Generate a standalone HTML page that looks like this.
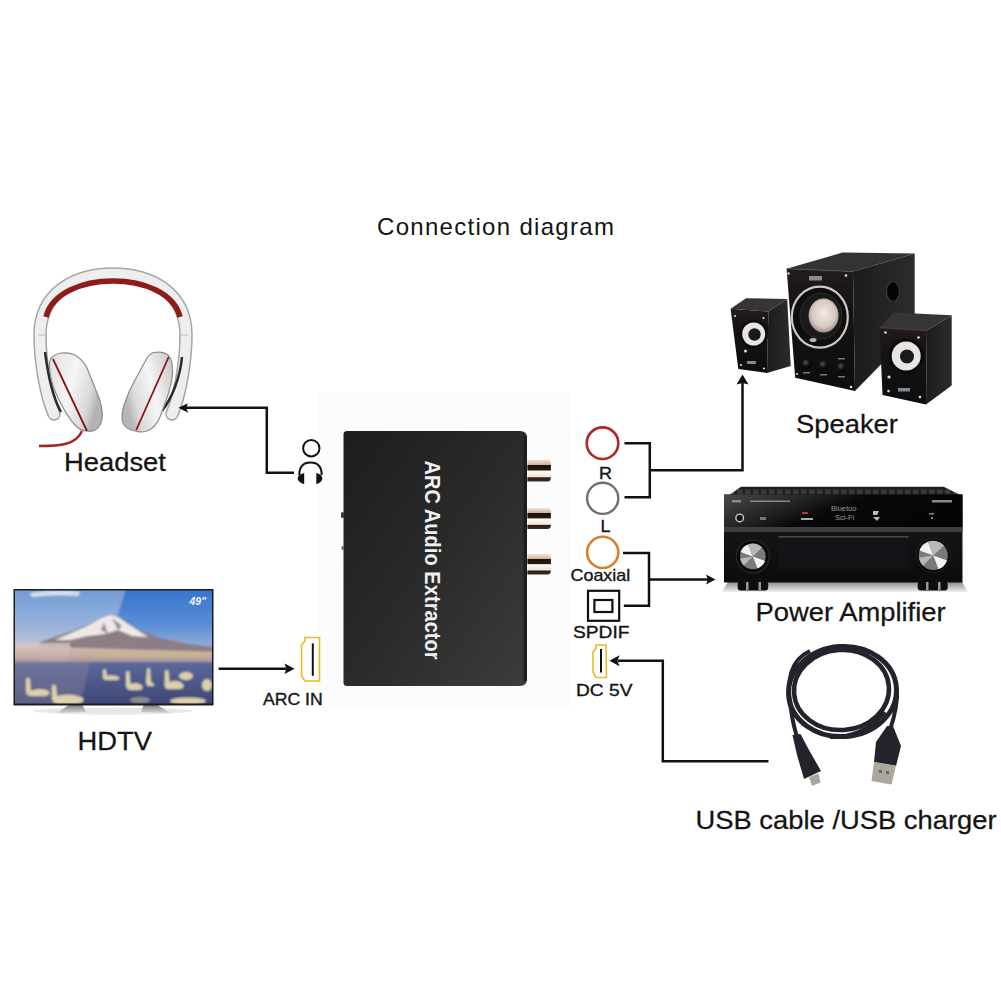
<!DOCTYPE html>
<html><head><meta charset="utf-8">
<style>
html,body{margin:0;padding:0;background:#fff;width:1001px;height:1001px;overflow:hidden}
svg{position:absolute;left:0;top:0;display:block}
text{font-family:"Liberation Sans",sans-serif}
</style></head><body>
<svg width="1001" height="1001" viewBox="0 0 1001 1001">



<rect x="318" y="392" width="252" height="318" fill="#fcfcfd"/>
<!-- ===== HEADPHONES ===== -->
<g id="headphones">
<defs>
<linearGradient id="cupL" x1="0" y1="0" x2="1" y2="0.4">
<stop offset="0" stop-color="#dedede"/><stop offset="0.5" stop-color="#f6f6f6"/><stop offset="0.85" stop-color="#d8d8d8"/><stop offset="1" stop-color="#b4b4b4"/>
</linearGradient>
<linearGradient id="cupR" x1="1" y1="0" x2="0" y2="0.4">
<stop offset="0" stop-color="#c4c4c4"/><stop offset="0.5" stop-color="#f6f6f6"/><stop offset="0.85" stop-color="#dadada"/><stop offset="1" stop-color="#b8b8b8"/>
</linearGradient>
</defs>
<path d="M54,414 C46,395 40,362 40,335 C40,293 75,274 113,274 C151,274 186,293 186,335 C186,362 180,395 172,414" fill="none" stroke="#a6a6a6" stroke-width="13.5" stroke-linecap="round"/>
<path d="M54,414 C46,395 40,362 40,335 C40,293 75,274 113,274 C151,274 186,293 186,335 C186,362 180,395 172,414" fill="none" stroke="#eeeeee" stroke-width="10.5" stroke-linecap="round"/>
<path d="M46,317 C52,293 82,281 113,281 C144,281 174,293 180,317" fill="none" stroke="#8e1c1c" stroke-width="5.5"/>
<path d="M38,335 L45,335 M181,335 L188,335" stroke="#bdbdbd" stroke-width="1.2"/>
<path d="M45,352 C48,375 53,398 61,412" fill="none" stroke="#2a2a2a" stroke-width="2.5"/>
<path d="M182,357 C180,378 172,398 162,411" fill="none" stroke="#2a2a2a" stroke-width="2.5"/>
<path d="M52,357 C56,353 66,351 75,355 C80,358 84,362 87,368 L99,398 C102,406 104,418 100,425 C97,430 92,432 87,431 C83,431 79,429 76,426 C70,420 64,410 59,400 C55,392 51,382 50,372 C49,366 49,360 52,357 Z" fill="url(#cupL)" stroke="#8c8c8c" stroke-width="1.2"/>
<path d="M53,359 L87,431" stroke="#8a1414" stroke-width="1.8"/>
<path d="M152,353 C160,351 166,353 169,356 C172,360 173,366 172.5,374 C172,382 170,388 168,395 L160,417 C157,424 153,429 147,431 C143,432 138,432 135,431 C130,430 126,428 123.5,424 C121,419 122,412 124,405 C127,396 131,387 135,380 L147,358 C149,355 150,354 152,353 Z" fill="url(#cupR)" stroke="#8c8c8c" stroke-width="1.2"/>
<path d="M168.7,357 L136.2,430" stroke="#8a1414" stroke-width="1.8"/>
<path d="M82,431 C76,445 60,446 39,446" fill="none" stroke="#a42424" stroke-width="2.4"/>
</g>

<!-- ===== TV ===== -->
<g id="tv">
<defs>
<linearGradient id="skyR" x1="0" y1="0" x2="0" y2="1">
<stop offset="0" stop-color="#3572cc"/><stop offset="0.6" stop-color="#5a8ed6"/><stop offset="1" stop-color="#9fb6da"/>
</linearGradient>
<linearGradient id="skyL" x1="0" y1="0" x2="0" y2="1">
<stop offset="0" stop-color="#6f9ad6"/><stop offset="0.6" stop-color="#97b2da"/><stop offset="1" stop-color="#c4c6d6"/>
</linearGradient>
<linearGradient id="hazeg" x1="0" y1="0" x2="0" y2="1">
<stop offset="0" stop-color="#d8c4bc"/><stop offset="0.6" stop-color="#c6aea4"/><stop offset="1" stop-color="#9c8c9c"/>
</linearGradient>
<linearGradient id="waterg" x1="0" y1="0" x2="0" y2="1">
<stop offset="0" stop-color="#5a6a9a"/><stop offset="1" stop-color="#3c4474"/>
</linearGradient>
<linearGradient id="standg" x1="0" y1="0" x2="0" y2="1">
<stop offset="0" stop-color="#777"/><stop offset="1" stop-color="#d6d6d6"/>
</linearGradient>
<clipPath id="scr"><rect x="15" y="590.5" width="197" height="113"/></clipPath>
<filter id="soft" x="-5%" y="-5%" width="110%" height="110%"><feGaussianBlur stdDeviation="0.9"/></filter>
</defs>
<ellipse cx="113" cy="711" rx="80" ry="3.5" fill="#e8e8e8"/>
<path d="M70,704 L82,704 L86,712 L57,713 Z" fill="url(#standg)"/>
<path d="M144,704 L156,704 L170,713 L141,712 Z" fill="url(#standg)"/>
<rect x="13.5" y="589" width="200" height="116.5" fill="#1c1c1c"/>
<g clip-path="url(#scr)">
<g filter="url(#soft)">
<rect x="10" y="586" width="210" height="65" fill="url(#skyR)"/>
<path d="M10,586 L127,586 L116,620 L100,650 L10,650 Z" fill="url(#skyL)"/>
<path d="M30,593 Q55,589 80,592 L78,596 Q55,594 32,597 Z" fill="#eef0f4" opacity="0.8"/>
<path d="M40,642 L75,630 L98,620 L110,615 L118,617 L135,628 L160,638 L190,644 L220,648 L220,662 L40,662 Z" fill="#8c7e84"/>
<path d="M55,640 L85,627 L102,618 L110,615 L118,617 L128,624 L142,633 L148,637 L132,636 L118,630 L105,634 L88,636 L70,640 Z" fill="#eee8e6"/>
<path d="M112,618 L118,630 L122,626 Z M104,622 L108,634 L101,630 Z" fill="#9a8a90"/>
<rect x="10" y="643" width="60" height="20" fill="#d8c6c0" opacity="0.8"/>
<path d="M10,646 L220,652 L220,664 L10,664 Z" fill="url(#hazeg)" opacity="0.9"/>
<rect x="95" y="652" width="110" height="5" fill="#c8b48a" opacity="0.8"/>
<rect x="10" y="662" width="210" height="45" fill="url(#waterg)"/>
<path d="M10,662 L90,662 L80,707 L10,707 Z" fill="#8a80a0" opacity="0.45"/>
<g fill="#ddd0aa">
<path d="M26,679 q2,-3 4,0 l1,12 q8,-4 18,0 q2,4 -4,5 l-15,0 q-4,-1 -4,-5 Z"/>
<path d="M52,686 q2,-3 4,0 l1,10 q14,-4 26,2 q2,5 -6,6 l-20,0 q-5,-1 -5,-6 Z"/>
<path d="M103,670 q2,-2 3,0 l1,6 q6,-2 12,1 q1,3 -3,3 l-10,0 q-3,0 -3,-3 Z"/>
<path d="M126,672 q2,-2 3.5,0 l1,12 q7,-3 12,2 q1,4 -4,4 l-9,0 q-3,-1 -3.5,-4 Z"/>
<path d="M147,669 q2,-2 3,0 l1,13 q3,1 3,4 l-6,0 q-2,-1 -2,-4 Z"/>
<path d="M165,671 q2,-2 3.5,0 l1,11 q10,-3 14,3 q1,4 -5,4 l-11,0 q-3,-1 -3,-4 Z"/>
<ellipse cx="186" cy="676" rx="7" ry="4"/>
<ellipse cx="207" cy="685" rx="5" ry="6"/>
<ellipse cx="188" cy="701" rx="18" ry="3.5"/>
<ellipse cx="140" cy="700" rx="10" ry="3" opacity="0.5"/>
</g>
</g>
</g>
<text x="189.5" y="605" font-size="10.5" font-weight="bold" font-style="italic" fill="#f4f8ff">49"</text>
</g>

<!-- ===== SPEAKERS ===== -->
<g id="speakers">
<defs>
<linearGradient id="spfront" x1="0" y1="0" x2="0" y2="1">
<stop offset="0" stop-color="#231c1c"/><stop offset="0.3" stop-color="#161313"/><stop offset="1" stop-color="#0d0d0d"/>
</linearGradient>
<linearGradient id="spside" x1="0" y1="0" x2="1" y2="0">
<stop offset="0" stop-color="#1c1c1c"/><stop offset="1" stop-color="#2c2c2c"/>
</linearGradient>
<radialGradient id="conegrad" cx="0.5" cy="0.45" r="0.6">
<stop offset="0" stop-color="#f2eae6"/><stop offset="0.65" stop-color="#d8c8c2"/><stop offset="1" stop-color="#8a7e7a"/>
</radialGradient>
<radialGradient id="knobs" cx="0.4" cy="0.35" r="0.7">
<stop offset="0" stop-color="#555"/><stop offset="0.5" stop-color="#141414"/><stop offset="1" stop-color="#000"/>
</radialGradient>
</defs>
<!-- subwoofer -->
<path d="M786.6,268.7 L842.6,252.6 L914.7,253.5 L853,271.6 Z" fill="#333"/>
<path d="M853,271.6 L914.7,253.5 L914.7,330 L855,391 Z" fill="url(#spside)"/>
<path d="M786.6,268.7 L853,271.6 L855,391 L795.2,377.8 Z" fill="url(#spfront)"/>
<path d="M786.6,268.7 L853,271.6" stroke="#555" stroke-width="0.8"/>
<ellipse cx="893" cy="291.5" rx="6.5" ry="10" fill="#050505" stroke="#3a3a3a" stroke-width="1.2"/>
<ellipse cx="819.8" cy="317.1" rx="28" ry="30.5" fill="#0e0e0e" stroke="#cfc8c4" stroke-width="2.2"/>
<ellipse cx="821" cy="316" rx="21" ry="23" fill="#1a1a1a" stroke="#2a2a2a" stroke-width="1"/>
<ellipse cx="823.6" cy="315.5" rx="15" ry="17" fill="url(#conegrad)"/>
<ellipse cx="813" cy="340" rx="3.5" ry="2" fill="#ddd" opacity="0.8"/>
<g fill="url(#knobs)">
<circle cx="806.6" cy="364" r="5"/><circle cx="823.6" cy="365.5" r="5"/><circle cx="841.7" cy="367.5" r="5"/>
</g>
<g fill="#777"><rect x="803" y="372" width="7" height="1.5"/><rect x="820" y="374" width="7" height="1.5"/><rect x="838" y="376" width="7" height="1.5"/><rect x="838" y="358" width="7" height="1.5"/></g>
<rect x="809" y="276" width="13" height="4.5" fill="#8a8a9a"/>
<g fill="#ddd"><circle cx="788.5" cy="273.5" r="1.2"/><circle cx="846" cy="275.5" r="1.3"/><circle cx="851" cy="387" r="1.3"/><circle cx="797" cy="374" r="1.1"/></g>
<!-- left small speaker -->
<path d="M730.6,308.7 L746,298.3 L787.2,299 L768.4,311.5 Z" fill="#353535"/>
<path d="M768.4,311.5 L787.2,299 L790.7,366 L767,373 Z" fill="url(#spside)"/>
<path d="M730.6,308.7 L768.4,311.5 L767,373 L738.3,368.9 Z" fill="url(#spfront)"/>
<circle cx="753.7" cy="334" r="14" fill="#0a0a0a"/>
<circle cx="753.7" cy="334" r="11.5" fill="#e8e4e2"/>
<circle cx="754.5" cy="334.5" r="6.2" fill="#1a1a1a"/>
<rect x="747" y="361" width="9" height="3" fill="#7a8a9a"/>
<g fill="#ddd"><circle cx="735" cy="316" r="1.1"/><circle cx="763.5" cy="318" r="1.1"/><circle cx="741" cy="365" r="1.1"/><circle cx="764" cy="368.5" r="1.1"/><circle cx="745.5" cy="351" r="1.5"/></g>
<!-- right small speaker -->
<path d="M879.6,327.5 L893.9,312.4 L951.7,315.2 L927,330.4 Z" fill="#353535"/>
<path d="M927,330.4 L951.7,315.2 L951.7,385.4 L926,404.4 Z" fill="url(#spside)"/>
<path d="M879.6,327.5 L927,330.4 L926,404.4 L882.5,395 Z" fill="url(#spfront)"/>
<path d="M879.6,327.5 L927,330.4" stroke="#4a3a3a" stroke-width="1.5"/>
<circle cx="906.2" cy="356" r="17.5" fill="#0a0a0a"/>
<circle cx="906.2" cy="356" r="14.5" fill="#e8e4e2"/>
<circle cx="907" cy="356.5" r="7" fill="#1a1a1a"/>
<rect x="898" y="388" width="12" height="3.5" fill="#7a8a9a"/>
<g fill="#ddd"><circle cx="885.5" cy="332.5" r="1.3"/><circle cx="918.5" cy="337.5" r="1.3"/><circle cx="888.5" cy="391" r="1.3"/><circle cx="920" cy="397" r="1.3"/><circle cx="889" cy="377" r="1.6"/></g>
</g>

<!-- ===== AMPLIFIER ===== -->
<g id="amp">
<defs>
<linearGradient id="ampup" x1="0" y1="0" x2="1" y2="0.35">
<stop offset="0" stop-color="#4a4a4a"/><stop offset="0.4" stop-color="#1c1c1c"/><stop offset="0.55" stop-color="#080808"/><stop offset="1" stop-color="#050505"/>
</linearGradient>
<linearGradient id="amplow" x1="0" y1="0" x2="0" y2="1">
<stop offset="0" stop-color="#1a1a1a"/><stop offset="1" stop-color="#0c0c0c"/>
</linearGradient>
<linearGradient id="reflg" x1="0" y1="0" x2="0" y2="1">
<stop offset="0" stop-color="#8a8a8a"/><stop offset="1" stop-color="#f0f0f0"/>
</linearGradient>
<pattern id="vents" x="0" y="0" width="8" height="8" patternUnits="userSpaceOnUse">
<rect width="8" height="8" fill="#1e1e1e"/><rect x="1" y="1.5" width="5.5" height="4.5" fill="#3a3a3a"/>
</pattern>
</defs>
<path d="M728,582 L962,582 L968,592 L722,592 Z" fill="url(#reflg)"/>
<path d="M741,486.7 L943.7,486.7 L962,495.8 L728.6,495.5 Z" fill="url(#vents)"/>
<rect x="724" y="494.5" width="238.5" height="88" fill="url(#amplow)"/>
<rect x="724" y="494.5" width="238.5" height="33" fill="url(#ampup)"/>
<rect x="724" y="527" width="238.5" height="5" fill="#3e3e3e"/>
<rect x="778.6" y="536" width="130" height="33" fill="#121418"/>
<rect x="778.6" y="536" width="130" height="1.5" fill="#4a4a4a"/>
<g fill="#8a8a8a"><rect x="732" y="500" width="9" height="2.5"/><rect x="750" y="500.5" width="40" height="1.5"/><rect x="932" y="500" width="20" height="2.5"/></g>
<circle cx="739.7" cy="517.9" r="3.8" fill="#111" stroke="#cfcfcf" stroke-width="1.4"/>
<rect x="760" y="517" width="6" height="3" fill="#777"/>
<rect x="802" y="512" width="6" height="2" fill="#b33"/><rect x="801" y="518" width="12" height="2" fill="#aaa"/>
<g fill="#9a9a9a" font-size="7.5" font-family="Liberation Mono, monospace">
<text x="831" y="511">Bluetoo</text><text x="835" y="520">Sci-Fi</text>
</g>
<path d="M873,511 h6 l-2,4 h-4 Z M873,517 h7 l-3,4 Z" fill="#bbb"/>
<g fill="#888"><rect x="929" y="513" width="5" height="1.5"/><rect x="931" y="517" width="2" height="2"/></g>
<!-- knobs -->
<circle cx="752.8" cy="556.5" r="16.5" fill="#0a0a0a" stroke="#2e2a22" stroke-width="1.2"/>
<circle cx="752.8" cy="556.5" r="12.8" fill="#7a7a7a"/>
<path d="M752.8,556.5 L740.5,552 A12.8,12.8 0 0 1 748,544.6 Z M752.8,556.5 L765.1,561 A12.8,12.8 0 0 1 757.6,568.4 Z" fill="#f2f2f2"/>
<path d="M752.8,556.5 L748,544.6 A12.8,12.8 0 0 1 762,547.5 Z M752.8,556.5 L743.6,565.5 A12.8,12.8 0 0 1 740.2,558.8 Z" fill="#b8b8b8"/>
<circle cx="933.3" cy="555.5" r="17" fill="#0a0a0a" stroke="#222" stroke-width="1"/>
<circle cx="933.3" cy="555.5" r="14.5" fill="#7a7a7a"/>
<path d="M933.3,555.5 L919.5,550.5 A14.5,14.5 0 0 1 928,541.8 Z M933.3,555.5 L947.1,560.5 A14.5,14.5 0 0 1 938.6,569.2 Z" fill="#f2f2f2"/>
<path d="M933.3,555.5 L928,541.8 A14.5,14.5 0 0 1 944,545.5 Z M933.3,555.5 L923,565.8 A14.5,14.5 0 0 1 919,557.8 Z" fill="#b8b8b8"/>
<!-- feet -->
<g fill="#0e0e0e"><rect x="737.7" y="581.5" width="30.5" height="9" rx="3"/><rect x="917.7" y="581.5" width="30" height="9" rx="3"/></g>
<g fill="#9a9a9a"><rect x="746" y="582" width="2.5" height="8"/><rect x="758.5" y="582" width="2.5" height="8"/><rect x="926" y="582" width="2.5" height="8"/><rect x="938" y="582" width="2.5" height="8"/></g>
</g>

<!-- ===== USB CABLE ===== -->
<g id="usb" fill="none" stroke="#23232c">
<ellipse cx="842.5" cy="691.5" rx="54" ry="45" stroke-width="5" transform="rotate(-4 842.5 691.5)"/>
<ellipse cx="841.5" cy="690" rx="47.5" ry="40" stroke-width="4.5" transform="rotate(-4 841.5 690)"/>
<path d="M790,705 C787,680 790,660 810,651" stroke-width="4"/>
<path d="M790,700 C791,715 794,727 797,737" stroke-width="4"/>
<path d="M897,690 C898,705 894,718 890,730" stroke-width="4"/>
<path d="M885,712 C870,730 850,738 830,737" stroke-width="4"/>
</g>
<g id="usbplugs">
<path d="M792.5,735 L800.5,734 L809,750 L821,771 L804,779 L797,755 Z" fill="#23232c"/>
<path d="M809,777 L818.5,773.5 L820.5,782.5 L812,786 Z" fill="#a9a6a0"/>
<path d="M887,726 L893,726 L901,746 L896,766 L874,762 L876,742 Z" fill="#23232c"/>
<path d="M874,762 L896,765.5 L891.5,784.5 L871.5,781 Z" fill="#aba79e"/>
<rect x="879" y="770" width="3" height="3" fill="#666"/><rect x="886" y="771" width="3" height="3" fill="#666"/>
</g>

<!-- ===== TITLE & LABELS ===== -->
<g fill="#141414" stroke="#141414" stroke-width="0.25">
<text x="377" y="234.5" font-size="24" letter-spacing="1.3" stroke-width="0">Connection diagram</text>
<text transform="translate(64,471) scale(1.095,1)" font-size="25">Headset</text>
<text transform="translate(77.5,750) scale(1.095,1)" font-size="25">HDTV</text>
<text transform="translate(796,432.5) scale(1.095,1)" font-size="25">Speaker</text>
<text transform="translate(755.5,620.5) scale(1.095,1)" font-size="25">Power Amplifier</text>
<text transform="translate(695.5,829) scale(1.095,1)" font-size="25">USB cable /USB charger</text>
</g>
<g fill="#151515" stroke="#151515" stroke-width="0.35">
<text transform="translate(599,478.5) scale(1.12,1)" font-size="16">R</text>
<text transform="translate(600.5,532) scale(1.12,1)" font-size="16">L</text>
<text transform="translate(570.5,581.2) scale(1.12,1)" font-size="16">Coaxial</text>
<text transform="translate(573,637.5) scale(1.13,1)" font-size="17">SPDIF</text>
<text transform="translate(576,696) scale(1.13,1)" font-size="17">DC 5V</text>
<text transform="translate(263,704.5) scale(1.1,1)" font-size="16">ARC IN</text>
</g>

<!-- ===== CONNECTION LINES ===== -->
<g stroke="#111" stroke-width="2.5" fill="none" stroke-linejoin="miter">
<polyline points="624.5,443.3 649.8,443.3 649.8,497.2 624.5,497.2"/>
<polyline points="649.8,470.2 742.5,470.2 742.5,382"/>
<polyline points="623,553 649,553 649,605.8 623.8,605.8"/>
<polyline points="649,579.5 708,579.5"/>
<polyline points="768.5,761.2 662.8,761.2 662.8,660.8 618,660.8"/>
<polyline points="186,407.8 266.8,407.8 266.8,472.7 294,472.7"/>
<polyline points="218.6,668.7 286,668.7"/>
</g>
<g fill="#111">
<path d="M742.5,374.5 L748.5,384.5 L742.5,383 L736.5,384.5 Z"/>
<path d="M715.5,579.5 L706,574.6 L707.8,579.5 L706,584.4 Z"/>
<path d="M609.5,660.8 L619.5,655.3 L617.5,660.8 L619.5,666.3 Z"/>
<path d="M178.5,407.8 L188,403.2 L186.2,407.8 L188,412.8 Z"/>
<path d="M294.6,668.7 L284.5,663.4 L286.3,668.7 L284.5,674 Z"/>
</g>

<!-- ===== PORT ICONS ===== -->
<circle cx="602.5" cy="443.2" r="15.8" fill="none" stroke="#b3262a" stroke-width="2.6"/>
<circle cx="602.7" cy="498.3" r="15.6" fill="none" stroke="#707070" stroke-width="2.4"/>
<circle cx="602.7" cy="552.4" r="15.6" fill="none" stroke="#d67f2c" stroke-width="2.6"/>
<rect x="588" y="590.8" width="31.2" height="30" fill="none" stroke="#111" stroke-width="2.2"/>
<rect x="594.4" y="600" width="18" height="12" fill="none" stroke="#111" stroke-width="2.2"/>
<!-- hdmi-like DC -->
<path d="M596,645 L606,645 L606.5,677.5 L596,677.5 L593,672 L593,652 L596,648 Z" fill="none" stroke="#e2bd28" stroke-width="1.6"/>
<line x1="601" y1="649" x2="601" y2="672.5" stroke="#111" stroke-width="2"/>
<!-- ARC IN hdmi -->
<path d="M305,637.5 L319.5,637.5 L319.5,681 L305,681 L301.5,676 L301.5,645 L305,641 Z" fill="none" stroke="#e2bd28" stroke-width="1.6"/>
<line x1="312.8" y1="643.4" x2="312.8" y2="675.8" stroke="#111" stroke-width="2"/>
<!-- headphone jack icon -->
<circle cx="311.3" cy="448.2" r="8.2" fill="none" stroke="#111" stroke-width="2"/>
<path d="M299.3,475 C299.3,466 303.5,462.5 310.5,462.5 C317.5,462.5 321.7,466 321.7,475" fill="none" stroke="#111" stroke-width="2"/>
<path d="M304.2,473 L304.2,484 C300.5,483.5 297.6,480.5 297.6,478.5 C297.6,476 300,474 304.2,473 Z" fill="#111"/>
<path d="M316.3,473 L316.3,484 C320,483.5 322.3,480.5 322.3,478.5 C322.3,476 320.5,474 316.3,473 Z" fill="#111"/>

<!-- ===== DEVICE ===== -->
<g id="device">
<defs>
<linearGradient id="devg" x1="0" y1="0" x2="1" y2="1">
<stop offset="0" stop-color="#1d1d1d"/><stop offset="0.5" stop-color="#2a2a2a"/><stop offset="1" stop-color="#3c3c3c"/>
</linearGradient>
<linearGradient id="rcag" x1="0" y1="0" x2="0" y2="1">
<stop offset="0" stop-color="#f0e4da"/><stop offset="0.22" stop-color="#d2b49c"/>
<stop offset="0.25" stop-color="#1a120c"/><stop offset="0.47" stop-color="#241a12"/>
<stop offset="0.52" stop-color="#fffcf6"/><stop offset="0.78" stop-color="#efe4d8"/>
<stop offset="0.83" stop-color="#2a1c12"/><stop offset="1" stop-color="#3e2c20"/>
</linearGradient>
</defs>
<path d="M347,431 L520,431 Q527,431 527,438 L527,679 Q527,686 520,686 L347,686 Q343.5,686 343.5,682.5 L343.5,434.5 Q343.5,431 347,431 Z" fill="url(#devg)"/>
<rect x="523.5" y="436" width="3.5" height="245" fill="#1e1e1e"/>
<rect x="341" y="512" width="3" height="6" rx="1.5" fill="#3a3a3a"/>
<rect x="341.5" y="546" width="2.5" height="4" rx="1.2" fill="#6a6a6a"/>
<g fill="url(#rcag)">
<path d="M527.4,459.8 h20 q3.5,0 3.5,4 v13.7 q0,4 -3.5,4 h-20 z"/>
<path d="M527.4,508 h20 q3.5,0 3.5,4 v13 q0,4 -3.5,4 h-20 z"/>
<path d="M527.4,554 h20 q3.5,0 3.5,4 v12.5 q0,4 -3.5,4 h-20 z"/>
</g>
<text transform="translate(425,460.5) rotate(90) scale(0.915,1)" font-size="21.8" font-weight="bold" fill="#f0f0f0" letter-spacing="0.1">ARC Audio Extractor</text>
</g>
</svg>
</body></html>
